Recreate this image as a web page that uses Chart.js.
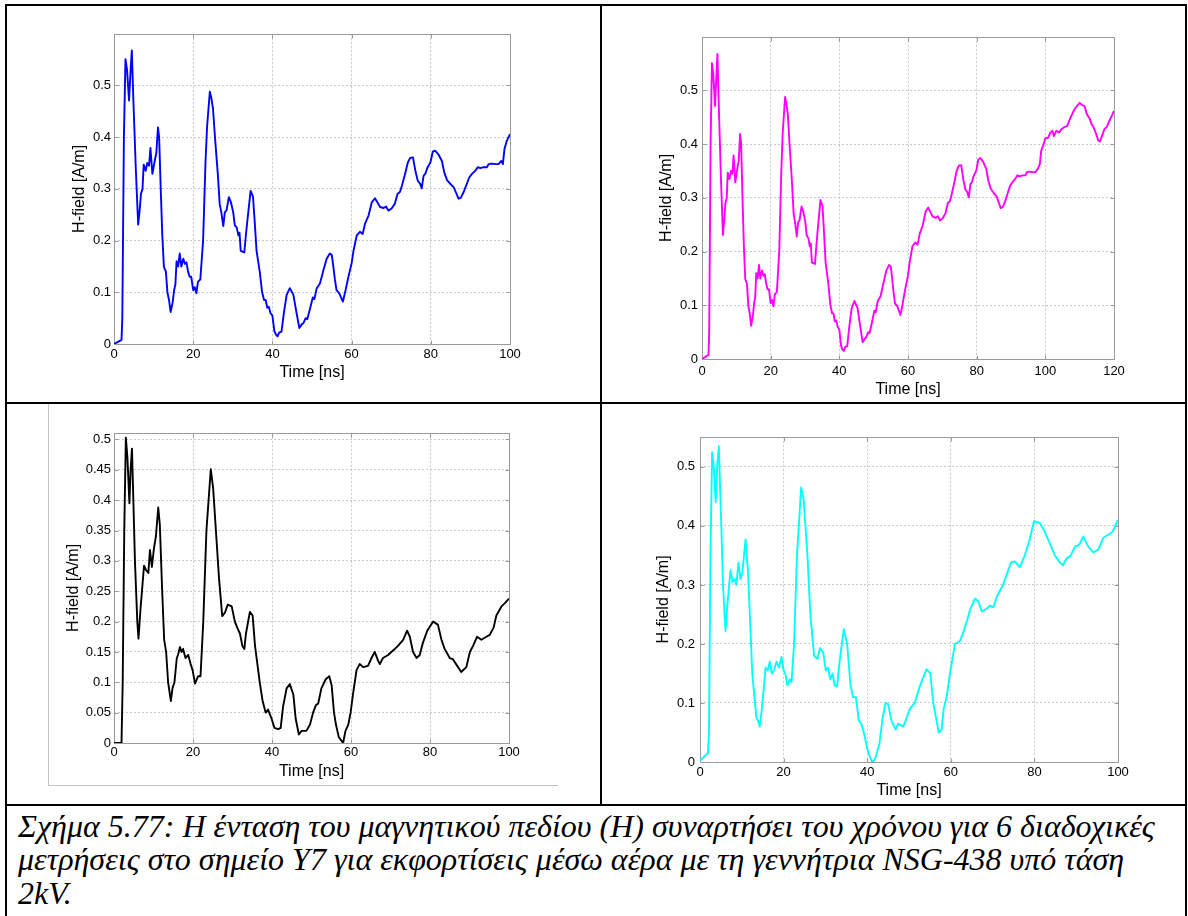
<!DOCTYPE html>
<html><head><meta charset="utf-8">
<script src="https://cdn.jsdelivr.net/npm/chart.js@4.4.1/dist/chart.umd.min.js"></script>
<style>
html,body{margin:0;padding:0;background:#fff}
body{width:1188px;height:916px;position:relative;overflow:hidden}
.ln{position:absolute;background:#000}
.fr{position:absolute;background:#c4c4c4}
canvas{position:absolute}
.cap{position:absolute;left:18px;font-family:"Liberation Serif","Times New Roman",serif;font-style:italic;font-size:32px;line-height:34px;white-space:nowrap;color:#000}
</style></head><body>
<div class="ln" style="left:5px;top:4px;width:1182px;height:2px"></div>
<div class="ln" style="left:5px;top:4px;width:2px;height:912px"></div>
<div class="ln" style="left:1185px;top:4px;width:2px;height:912px"></div>
<div class="ln" style="left:600px;top:4px;width:2px;height:802px"></div>
<div class="ln" style="left:5px;top:402px;width:1182px;height:2px"></div>
<div class="ln" style="left:5px;top:804px;width:1182px;height:2px"></div>
<div class="fr" style="left:48px;top:404px;width:1px;height:381px"></div>
<div class="fr" style="left:48px;top:785px;width:510px;height:1px"></div>
<div class="cap" style="top:809px">Σχήμα 5.77: Η ένταση του μαγνητικού πεδίου (Η) συναρτήσει του χρόνου για 6 διαδοχικές</div>
<div class="cap" style="top:842px">μετρήσεις στο σημείο Υ7 για εκφορτίσεις μέσω αέρα με τη γεννήτρια NSG-438 υπό τάση</div>
<div class="cap" style="top:876px">2kV.</div>
<script>
// ---------- DATA ----------
const xTicks100 = [0, 20, 40, 60, 80, 100];
const xTicks120 = [0, 20, 40, 60, 80, 100, 120];
const yTicksA = [0, 0.1, 0.2, 0.3, 0.4, 0.5];
const yTicksB = [0, 0.05, 0.1, 0.15, 0.2, 0.25, 0.3, 0.35, 0.4, 0.45, 0.5];
const xTitle = "Time [ns]";
const yTitle = "H-field [A/m]";

// Measurement 1 (blue)
const t1 = [0,1,1.9,2.1,2.5,2.9,3.3,3.8,4.2,4.5,4.9,5.5,6.1,6.5,6.8,7.2,7.5,8.0,8.4,8.85,9.2,9.7,10.3,10.7,11.1,11.4,11.8,12.2,12.6,13.1,13.5,13.9,14.3,14.8,15.2,15.5,15.8,16.2,16.6,17.0,17.5,17.9,18.3,18.7,19.1,19.5,20.0,20.4,20.8,21.2,21.8,22.5,23.1,23.5,24.2,24.6,25.0,25.5,25.9,26.2,26.7,27.1,27.6,28.0,28.4,29.0,29.5,30.1,30.5,31.0,31.4,31.7,32.0,32.9,33.3,33.7,34.5,35.1,35.5,36.0,36.4,36.8,37.4,37.9,38.3,38.7,39.1,39.5,40.0,40.5,40.9,41.3,41.7,42.3,42.9,43.6,44.4,45.3,46.1,46.8,47.4,47.8,48.4,48.8,49.5,50.2,50.6,51.2,52.0,52.9,53.7,54.5,55.0,55.4,55.8,56.2,56.9,57.8,58.3,59.2,60.0,60.5,61.3,62.1,62.8,63.4,64.3,65.1,65.9,66.5,67.2,68.1,68.7,69.3,70.1,70.9,71.6,72.2,72.7,73.5,74.2,74.8,75.5,76.1,76.7,77.3,77.7,78.2,78.6,79.2,79.9,80.5,81.1,81.9,82.8,83.4,84.1,84.9,85.8,86.3,87.0,87.6,88.3,89.1,89.7,90.4,91.2,91.9,92.5,93.3,94.2,94.6,95.4,96.3,97.1,97.8,98.2,98.6,99.2,100];
const h1 = [0,0.004,0.008,0.05,0.4,0.551,0.53,0.471,0.53,0.568,0.47,0.34,0.231,0.26,0.29,0.30,0.347,0.335,0.35,0.345,0.379,0.329,0.355,0.37,0.419,0.40,0.3,0.21,0.149,0.14,0.099,0.085,0.062,0.08,0.105,0.115,0.16,0.15,0.175,0.15,0.165,0.155,0.158,0.14,0.13,0.13,0.104,0.11,0.098,0.12,0.125,0.2,0.35,0.42,0.488,0.475,0.455,0.4,0.36,0.33,0.27,0.255,0.228,0.255,0.258,0.284,0.275,0.255,0.23,0.225,0.21,0.215,0.18,0.177,0.21,0.24,0.296,0.285,0.24,0.18,0.16,0.14,0.1,0.085,0.085,0.07,0.072,0.06,0.055,0.025,0.018,0.015,0.022,0.024,0.06,0.095,0.108,0.095,0.06,0.031,0.038,0.04,0.05,0.048,0.068,0.09,0.087,0.108,0.117,0.143,0.165,0.175,0.172,0.149,0.124,0.104,0.098,0.082,0.098,0.13,0.156,0.181,0.21,0.217,0.213,0.233,0.249,0.274,0.282,0.274,0.265,0.263,0.266,0.258,0.262,0.271,0.29,0.294,0.306,0.329,0.351,0.36,0.361,0.335,0.316,0.31,0.301,0.326,0.329,0.342,0.351,0.372,0.374,0.367,0.354,0.332,0.317,0.31,0.303,0.294,0.281,0.283,0.294,0.31,0.322,0.329,0.335,0.342,0.34,0.342,0.342,0.348,0.349,0.348,0.348,0.354,0.348,0.377,0.393,0.406];

// Measurement 2 (magenta), 0-120 ns
const t2 = [0,1,1.9,2.1,2.5,2.9,3.3,3.8,4.2,4.5,4.9,5.5,6.1,6.5,6.8,7.2,7.5,8.0,8.4,8.85,9.2,9.7,10.3,10.7,11.1,11.4,11.8,12.2,12.6,13.1,13.5,13.9,14.3,14.8,15.2,15.5,15.8,16.2,16.6,17.0,17.5,17.9,18.3,18.7,19.1,19.5,20.0,20.4,20.8,21.2,21.8,22.5,23.1,23.5,24.2,24.6,25.0,25.5,25.9,26.2,26.7,27.1,27.6,28.0,28.4,29.0,29.5,30.1,30.5,31.0,31.4,31.7,32.0,32.9,33.3,33.7,34.5,35.1,35.5,36.0,36.4,36.8,37.4,37.9,38.3,38.7,39.1,39.5,40.0,40.5,40.9,41.3,41.7,42.3,42.9,43.6,44.4,45.3,46.1,46.8,47.4,47.8,48.4,48.8,49.5,50.2,50.6,51.2,52.0,52.9,53.7,54.5,55.0,55.4,55.8,56.2,56.9,57.8,58.3,59.2,60.0,60.5,61.3,62.1,62.8,63.4,64.3,65.1,65.9,66.5,67.2,68.1,68.7,69.3,70.1,70.9,71.6,72.2,72.7,73.5,74.2,74.8,75.5,76.1,76.7,77.3,77.7,78.2,78.6,79.2,79.9,80.5,81.1,81.9,82.8,83.4,84.1,84.9,85.8,86.3,87.0,87.6,88.3,89.1,89.7,90.4,91.2,91.9,92.5,93.3,94.2,94.6,95.4,96.3,97.1,97.8,98.4,98.8,99.5,100,100.8,101.5,102.1,102.5,103.2,104.0,104.7,105.6,106.4,107.1,107.8,108.5,109.2,110.0,110.7,111.4,112.1,112.9,113.5,114.1,114.8,115.4,115.9,116.5,117.2,117.9,118.6,119.3,120];
const h2 = [0,0.004,0.008,0.05,0.4,0.551,0.53,0.471,0.53,0.568,0.47,0.34,0.231,0.26,0.29,0.30,0.347,0.335,0.35,0.345,0.379,0.329,0.355,0.37,0.419,0.40,0.3,0.21,0.149,0.14,0.099,0.085,0.062,0.08,0.105,0.115,0.16,0.15,0.175,0.15,0.165,0.155,0.158,0.14,0.13,0.13,0.104,0.11,0.098,0.12,0.125,0.2,0.35,0.42,0.488,0.475,0.455,0.4,0.36,0.33,0.27,0.255,0.228,0.255,0.258,0.284,0.275,0.255,0.23,0.225,0.21,0.215,0.18,0.177,0.21,0.24,0.296,0.285,0.24,0.18,0.16,0.14,0.1,0.085,0.085,0.07,0.072,0.06,0.055,0.025,0.018,0.015,0.022,0.024,0.06,0.095,0.108,0.095,0.06,0.031,0.038,0.04,0.05,0.048,0.068,0.09,0.087,0.108,0.117,0.143,0.165,0.175,0.172,0.149,0.124,0.104,0.098,0.082,0.098,0.13,0.156,0.181,0.21,0.217,0.213,0.233,0.249,0.274,0.282,0.274,0.265,0.263,0.266,0.258,0.262,0.271,0.29,0.294,0.306,0.329,0.351,0.36,0.361,0.335,0.316,0.31,0.301,0.326,0.329,0.342,0.351,0.372,0.374,0.367,0.354,0.332,0.317,0.31,0.303,0.294,0.281,0.283,0.294,0.31,0.322,0.329,0.335,0.342,0.34,0.342,0.342,0.348,0.349,0.348,0.348,0.354,0.363,0.388,0.4,0.411,0.412,0.422,0.425,0.415,0.425,0.422,0.428,0.432,0.434,0.446,0.456,0.465,0.471,0.477,0.473,0.471,0.456,0.448,0.437,0.431,0.419,0.407,0.405,0.415,0.428,0.432,0.443,0.452,0.462];

// Measurement 3 (black)
const t3 = [0,1.9,2.2,2.6,3.0,3.4,3.9,4.2,4.55,4.9,5.3,5.9,6.2,6.7,7.2,7.6,8.1,8.7,9.1,9.6,10.1,10.6,11.2,11.6,12.2,12.7,13.2,13.7,14.4,14.8,15.3,15.9,16.2,16.7,17.1,17.5,18.1,18.8,19.4,19.9,20.5,21.3,21.9,22.6,23.4,24.5,25.1,25.7,26.6,27.4,28.1,28.8,29.8,30.6,31.2,31.9,32.5,33.0,33.4,34.4,35.1,35.7,36.5,36.9,37.6,38.4,39.0,39.9,40.6,41.6,42.2,42.8,43.7,44.5,45.4,46.0,46.8,47.5,48.7,49.6,50.4,51.1,51.7,52.5,53.6,54.5,55.1,55.7,56.2,56.9,58.0,58.6,59.3,59.9,60.5,61.4,62.2,63.1,64.3,65.2,66.0,66.9,67.3,68.1,69.4,70.2,71.1,71.9,73.2,74.2,74.9,75.7,76.6,77.4,78.2,79.3,80.8,82.0,82.9,83.7,85.0,85.8,87.1,87.9,89.2,90.1,90.9,91.9,93.0,94.3,95.1,96.1,96.8,98.1,98.9,100];
const h3 = [0,0,0.1,0.35,0.503,0.47,0.395,0.45,0.485,0.4,0.3,0.2,0.172,0.22,0.26,0.292,0.285,0.28,0.318,0.29,0.32,0.34,0.388,0.36,0.25,0.17,0.15,0.1,0.069,0.09,0.1,0.14,0.145,0.158,0.15,0.155,0.14,0.145,0.13,0.12,0.098,0.11,0.11,0.2,0.35,0.451,0.42,0.36,0.27,0.209,0.215,0.228,0.225,0.2,0.19,0.18,0.16,0.155,0.18,0.216,0.21,0.16,0.12,0.1,0.07,0.05,0.055,0.04,0.025,0.023,0.025,0.06,0.09,0.097,0.08,0.04,0.014,0.02,0.02,0.03,0.05,0.062,0.065,0.09,0.105,0.11,0.095,0.05,0.03,0.01,0,0.02,0.03,0.05,0.08,0.12,0.13,0.125,0.127,0.14,0.15,0.135,0.13,0.14,0.145,0.15,0.155,0.16,0.17,0.185,0.175,0.15,0.14,0.145,0.165,0.185,0.2,0.195,0.17,0.155,0.14,0.138,0.125,0.117,0.125,0.15,0.16,0.175,0.17,0.175,0.178,0.19,0.21,0.225,0.23,0.238];

// Measurement 4 (cyan)
const t4 = [0,1.1,1.9,2.15,2.5,2.9,3.3,3.75,4.1,4.5,5.1,5.5,6.1,6.6,7.3,7.8,8.3,8.7,9.2,9.7,10.1,10.9,11.5,12.1,12.5,12.9,13.5,13.9,14.3,14.8,15.2,15.7,16.2,16.7,17.2,17.7,18.3,18.9,19.5,20.0,20.4,20.9,21.5,21.9,22.5,23.2,24.2,24.8,25.7,26.4,27.3,28.1,28.7,29.5,30.1,30.6,31.2,31.7,32.2,32.8,33.4,34.4,35.2,36.0,36.6,37.3,38.0,38.6,39.2,40.1,40.6,41.2,41.6,42.1,42.9,43.7,44.4,45.0,45.8,46.8,47.4,48.6,49.2,50.2,51.4,52.2,53.2,54.2,55.1,55.8,56.6,57.1,57.8,58.3,59.0,59.8,61.0,62.2,63.0,63.9,64.7,65.8,66.6,67.4,68.6,69.4,70.2,71.0,72.5,73.5,74.4,75.3,76.5,77.7,78.8,79.9,81.3,82.5,83.7,84.9,85.9,86.8,87.7,88.7,89.7,90.7,91.7,92.9,94.1,95.3,96.5,97.7,98.7,100];
const h4 = [0.002,0.01,0.015,0.05,0.35,0.525,0.5,0.44,0.5,0.535,0.4,0.3,0.222,0.27,0.325,0.305,0.31,0.3,0.338,0.31,0.32,0.377,0.32,0.22,0.15,0.12,0.075,0.07,0.06,0.09,0.12,0.16,0.155,0.17,0.15,0.155,0.17,0.16,0.178,0.155,0.15,0.13,0.14,0.135,0.2,0.35,0.465,0.445,0.35,0.25,0.18,0.175,0.193,0.185,0.155,0.16,0.14,0.15,0.13,0.128,0.17,0.225,0.2,0.13,0.11,0.11,0.07,0.065,0.05,0.02,0.01,0,0.002,0.01,0.03,0.075,0.1,0.098,0.07,0.055,0.065,0.06,0.07,0.09,0.1,0.12,0.14,0.157,0.15,0.1,0.07,0.05,0.055,0.09,0.11,0.15,0.2,0.205,0.22,0.24,0.26,0.277,0.272,0.255,0.26,0.265,0.262,0.28,0.3,0.32,0.338,0.34,0.33,0.35,0.375,0.408,0.405,0.39,0.37,0.35,0.34,0.333,0.345,0.35,0.365,0.368,0.382,0.365,0.355,0.36,0.38,0.385,0.39,0.41];

// ---------- RENDERING ----------
Chart.defaults.font.family = '"Liberation Sans", Arial, Helvetica, sans-serif';
Chart.defaults.color = '#000';

const boxPlugin = {
  id: 'matlabBox',
  beforeDatasetsDraw(chart) {
    const {ctx, chartArea: a, scales: {x, y}} = chart;
    ctx.save();
    ctx.setLineDash([]);
    ctx.strokeStyle = '#9a9a9a';
    ctx.lineWidth = 1;
    const L = Math.round(a.left) + 0.5, T = Math.round(a.top) + 0.5;
    const R = Math.round(a.right) + 0.5, B = Math.round(a.bottom) + 0.5;
    ctx.beginPath();
    ctx.rect(L, T, R - L, B - T);
    x.ticks.forEach(tk => {
      const px = Math.round(x.getPixelForValue(tk.value)) + 0.5;
      ctx.moveTo(px, B); ctx.lineTo(px, B - 4);
      ctx.moveTo(px, T); ctx.lineTo(px, T + 4);
    });
    y.ticks.forEach(tk => {
      const py = Math.round(y.getPixelForValue(tk.value)) + 0.5;
      ctx.moveTo(L, py); ctx.lineTo(L + 4, py);
      ctx.moveTo(R, py); ctx.lineTo(R - 4, py);
    });
    ctx.stroke();
    ctx.restore();
  }
};

function makeChart(cfg) {
  const PT = 10, PR = 26;
  const c = document.createElement('canvas');
  const W = cfg.R - cfg.L + cfg.wy + PR;
  const H = cfg.B - cfg.T + PT + cfg.hx;
  c.width = W; c.height = H;
  c.style.left = (cfg.L - cfg.wy) + 'px';
  c.style.top = (cfg.T - PT) + 'px';
  c.style.width = W + 'px'; c.style.height = H + 'px';
  document.body.appendChild(c);
  const gridCommon = {color: '#c9c9c9', lineWidth: 1, drawTicks: false};
  new Chart(c, {
    type: 'line',
    data: {
      datasets: [{
        data: cfg.t.map((tv, i) => ({x: tv, y: cfg.h[i]})),
        borderColor: cfg.color, borderWidth: 1.9, pointRadius: 0,
        tension: 0, fill: false, borderJoinStyle: 'round'
      }]
    },
    options: {
      responsive: false, animation: false, devicePixelRatio: 1,
      layout: {padding: {top: PT, right: PR, left: 0, bottom: 0}},
      plugins: {legend: {display: false}, tooltip: {enabled: false}},
      scales: {
        x: {
          type: 'linear', min: 0, max: cfg.xMax,
          afterBuildTicks: ax => { ax.ticks = cfg.xTicks.map(v => ({value: v})); },
          afterFit: ax => { ax.height = cfg.hx; },
          grid: gridCommon, border: {display: false, dash: [2, 2]},
          ticks: {autoSkip: false, maxRotation: 0, padding: cfg.xTickPad,
                  font: {size: cfg.tickSize}, callback: v => String(v)},
          title: {display: true, text: xTitle, font: {size: cfg.titleSize},
                  padding: {top: 0, bottom: cfg.xTitlePad}}
        },
        y: {
          type: 'linear', min: 0, max: cfg.yMax,
          afterBuildTicks: ax => { ax.ticks = cfg.yTicks.map(v => ({value: v})); },
          afterFit: ax => { ax.width = cfg.wy; },
          grid: gridCommon, border: {display: false, dash: [2, 2]},
          ticks: {autoSkip: false, padding: cfg.yTickPad,
                  font: {size: cfg.tickSize}, callback: v => String(v)},
          title: {display: true, text: yTitle, font: {size: cfg.titleSize},
                  padding: {top: cfg.yTitlePad, bottom: 0}}
        }
      }
    },
    plugins: [boxPlugin]
  });
}

makeChart({t: t1, h: h1, color: '#0000ff', xMax: 100, yMax: 0.6, xTicks: xTicks100, yTicks: yTicksA,
  L: 114, T: 33, R: 510, B: 344, wy: 46, hx: 40, yTitlePad: 2, yTickPad: 3, xTickPad: 3, xTitlePad: 2, tickSize: 13, titleSize: 16});
makeChart({t: t2, h: h2, color: '#ff00ff', xMax: 120, yMax: 0.6, xTicks: xTicks120, yTicks: yTicksA,
  L: 702, T: 35, R: 1114, B: 359, wy: 46, hx: 40, yTitlePad: 1, yTickPad: 4, xTickPad: 5, xTitlePad: 0, tickSize: 13, titleSize: 16});
makeChart({t: t3, h: h3, color: '#000000', xMax: 100, yMax: 0.511, xTicks: xTicks100, yTicks: yTicksB,
  L: 114, T: 432, R: 509, B: 743, wy: 50, hx: 40, yTitlePad: 0, yTickPad: 3, xTickPad: 2, xTitlePad: 2, tickSize: 13, titleSize: 16});
makeChart({t: t4, h: h4, color: '#00ffff', xMax: 100, yMax: 0.551, xTicks: xTicks100, yTicks: yTicksA,
  L: 700, T: 434, R: 1118, B: 762, wy: 46, hx: 40, yTitlePad: 0, yTickPad: 5, xTickPad: 3, xTitlePad: 2, tickSize: 13, titleSize: 16});
</script>
</body></html>
